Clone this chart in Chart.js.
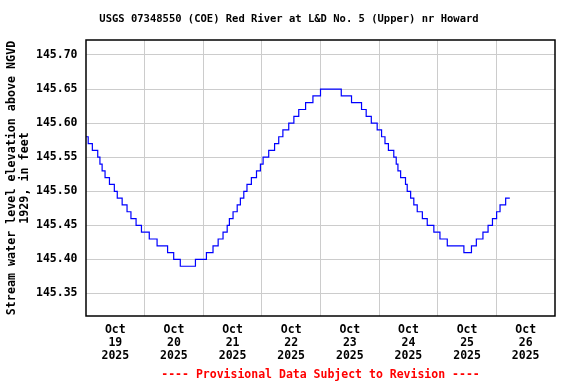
<!DOCTYPE html>
<html>
<head>
<meta charset="utf-8">
<script src="https://cdn.jsdelivr.net/npm/chart.js@4/dist/chart.umd.min.js"></script>
<style>
    html, body { margin: 0; padding: 0; background: #fff; }
    #wrap { width: 576px; height: 384px; }
</style>
</head>
<body>
<div id="wrap"><canvas id="gageChart"></canvas></div>
<script>
// hours since Oct 19 00:00 at which the reading changes, and the new reading (ft)
const levelHours = [0, 0.9, 2.6, 4.8, 5.7, 6.6, 7.8, 9.6, 11.6, 12.8, 14.8, 16.8, 18.4, 20.5, 22.7, 25.9, 29.1, 33.4, 35.9, 38.6,
    44.8, 49.3, 52.0, 54.1, 56.1, 57.8, 58.7, 60.2, 61.9, 63.2, 64.6, 65.9, 67.7, 69.8, 71.4, 72.5, 74.8, 77.2, 78.9, 80.6, 83.0, 85.1, 87.1, 89.9, 92.9, 96.0,
    104.5, 108.7, 112.8, 114.7, 116.8, 119.2, 121.0, 122.4, 123.8, 126.0, 127.0, 127.7, 128.8, 130.8, 131.5, 132.9, 134.2, 135.6, 137.7, 139.7, 142.4, 144.9, 147.9, 154.7,
    157.8, 159.8, 162.5, 164.6, 166.4, 168.1, 169.5, 171.8, 173.5];
const levelFeet = [145.58, 145.57, 145.56, 145.55, 145.54, 145.53, 145.52, 145.51, 145.50, 145.49, 145.48, 145.47, 145.46, 145.45, 145.44, 145.43, 145.42, 145.41, 145.40, 145.39,
    145.40, 145.41, 145.42, 145.43, 145.44, 145.45, 145.46, 145.47, 145.48, 145.49, 145.50, 145.51, 145.52, 145.53, 145.54, 145.55, 145.56, 145.57, 145.58, 145.59, 145.60, 145.61, 145.62, 145.63, 145.64, 145.65,
    145.64, 145.63, 145.62, 145.61, 145.60, 145.59, 145.58, 145.57, 145.56, 145.55, 145.54, 145.53, 145.52, 145.51, 145.50, 145.49, 145.48, 145.47, 145.46, 145.45, 145.44, 145.43, 145.42, 145.41,
    145.42, 145.43, 145.44, 145.45, 145.46, 145.47, 145.48, 145.49, 145.49];

const dayLabels = ['19', '20', '21', '22', '23', '24', '25', '26'];
const xTickHours = [12, 24, 36, 48, 60, 72, 84, 96, 108, 120, 132, 144, 156, 168, 180];
const yTicks = [145.35, 145.40, 145.45, 145.50, 145.55, 145.60, 145.65, 145.70];

const mono = 'DejaVu Sans Mono';

const frame = {
    id: 'frame',
    afterDraw(chart) {
        const { ctx, chartArea: a } = chart;
        ctx.save();
        ctx.strokeStyle = '#000';
        ctx.lineWidth = 1.5;
        ctx.strokeRect(a.left, a.top, a.right - a.left, a.bottom - a.top);
        ctx.restore();
    },
};

new Chart(document.getElementById('gageChart'), {
    type: 'line',
    data: {
        datasets: [{
            data: levelHours.map((h, i) => ({ x: h, y: levelFeet[i] })),
            borderColor: '#0000ff',
            borderWidth: 1.2,
            pointRadius: 0,
            stepped: true,
            fill: false,
        }],
    },
    options: {
        responsive: true,
        maintainAspectRatio: false,
        animation: false,
        layout: { padding: { left: 4, right: 2, top: 0, bottom: 0 } },
        plugins: {
            legend: { display: false },
            tooltip: { enabled: false },
            title: {
                display: true,
                text: 'USGS 07348550 (COE) Red River at L&D No. 5 (Upper) nr Howard',
                color: '#000',
                font: { family: mono, size: 10.5, weight: 'bold', lineHeight: 1.2 },
                padding: { top: 13.2, bottom: 14.2 },
            },
            subtitle: {
                display: true,
                position: 'bottom',
                fullSize: false,
                text: '---- Provisional Data Subject to Revision ----',
                color: '#ff0000',
                font: { family: mono, size: 11.5, weight: 'bold', lineHeight: 1.2 },
                padding: { top: 4.1, bottom: 2.1 },
            },
        },
        scales: {
            x: {
                type: 'linear',
                min: 0,
                max: 192,
                afterBuildTicks: (s) => { s.ticks = xTickHours.map((v) => ({ value: v })); },
                afterFit: (s) => { s.height = 48; },
                border: { display: false },
                grid: {
                    drawTicks: false,
                    color: (c) => (c.tick && c.tick.value % 24 === 0 ? '#cccccc' : 'rgba(0,0,0,0)'),
                    lineWidth: 1,
                },
                ticks: {
                    autoSkip: false,
                    maxRotation: 0,
                    padding: 7.5,
                    color: '#000',
                    font: { family: mono, size: 11.5, weight: 'bold', lineHeight: 1.12 },
                    callback: (v) => (v % 24 === 12 ? ['Oct', dayLabels[(v - 12) / 24], '2025'] : ''),
                },
            },
            y: {
                min: 145.317,
                max: 145.722,
                afterBuildTicks: (s) => { s.ticks = yTicks.map((v) => ({ value: v })); },
                afterFit: (s) => { s.width = 82; },
                border: { display: false },
                grid: { drawTicks: false, color: '#cccccc', lineWidth: 1 },
                ticks: {
                    padding: 8.5,
                    color: '#000',
                    font: { family: mono, size: 11.5, weight: 'bold' },
                    callback: (v) => v.toFixed(2),
                },
                title: {
                    display: true,
                    text: ['Stream water level elevation above NGVD', '1929, in feet'],
                    color: '#000',
                    font: { family: mono, size: 11.7, weight: 'bold', lineHeight: 1.15 },
                    padding: { top: 1, bottom: 0 },
                },
            },
            // empty right-hand margin so the title stays centred on the page
            yRight: {
                position: 'right',
                min: 145.317,
                max: 145.722,
                afterFit: (s) => { s.width = 19; },
                border: { display: false },
                grid: { display: false },
                ticks: { display: false },
            },
        },
    },
    plugins: [frame],
});
</script>
</body>
</html>
